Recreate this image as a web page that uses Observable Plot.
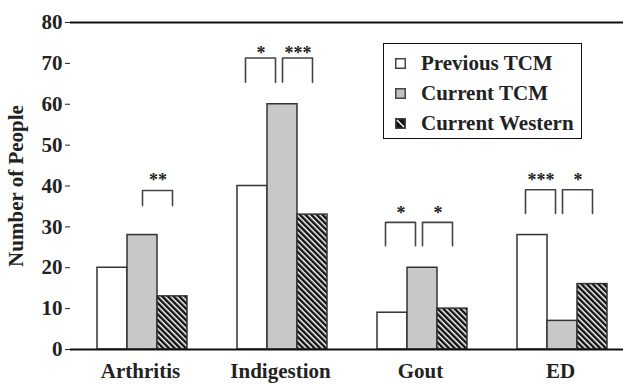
<!DOCTYPE html>
<html>
<head>
<meta charset="utf-8">
<script src="https://cdn.jsdelivr.net/npm/d3@7"></script>
<script src="https://cdn.jsdelivr.net/npm/@observablehq/plot@0.6"></script>
<style>
  html, body { margin: 0; padding: 0; background: #fff; overflow: hidden; width: 623px; height: 384px; }
  #wrap { position: relative; width: 630px; height: 384px; }
  #legend { position: absolute; left: 383px; top: 43px; width: 197px; height: 94px; border: 1.5px solid #111; background: #fff;
            font: bold 21px "Liberation Serif", "Times New Roman", serif; color: #222; }
  #legend .item { position: absolute; left: 11px; height: 24px; display: flex; align-items: center; white-space: nowrap; }
  #legend .item svg { margin-right: 15px; }
</style>
</head>
<body>
<div id="wrap"><div id="legend"></div></div>
<script>
// ---- data ----
const categories = ["Arthritis", "Indigestion", "Gout", "ED"];
const series = ["Previous TCM", "Current TCM", "Current Western"];
const previousTCM = [20, 40, 9, 28];
const currentTCM = [28, 60, 20, 7];
const currentWestern = [13, 33, 10, 16];
const yTicks = [0, 10, 20, 30, 40, 50, 60, 70, 80];

// significance brackets
const bracketCategory = ["Arthritis", "Indigestion", "Indigestion", "Gout", "Gout", "ED", "ED"];
const bracketFrom = ["Current TCM", "Previous TCM", "Current TCM", "Previous TCM", "Current TCM", "Previous TCM", "Current TCM"];
const bracketTo = ["Current Western", "Current TCM", "Current Western", "Current TCM", "Current Western", "Current TCM", "Current Western"];
const bracketTop = [38.9, 71.3, 71.3, 31.1, 31.1, 39.1, 39.1];
const bracketBottom = [35.2, 65.4, 65.4, 25.4, 25.4, 33.3, 33.3];
const bracketStars = ["**", "*", "***", "*", "*", "***", "*"];
const bracketStarY = [42.1, 73.1, 73.1, 34.0, 34.0, 42.1, 42.1];

// ---- layout / style ----
const W = 630, H = 384;
const M = {top: 22, right: 0, bottom: 35, left: 70};
const xPadOuter = 0.76;
const fxBand = (W - M.left - M.right) / categories.length;
const xStep = fxBand / (series.length + 2 * xPadOuter);
const leftShift = -7;
const fills = ["#ffffff", "#c8c8c8", "url(#hatch)"];
const font = '"Liberation Serif", "Times New Roman", serif';

const seriesValues = [previousTCM, currentTCM, currentWestern];
const bars = categories.flatMap((c, i) => series.map((s, j) => ({category: c, series: s, value: seriesValues[j][i]})));
const brackets = bracketCategory.map((c, k) => ({
  k, category: c, from: bracketFrom[k], to: bracketTo[k], top: bracketTop[k], bottom: bracketBottom[k],
  stars: bracketStars[k], starY: bracketStarY[k], first: bracketFrom[k] === series[0]
}));
const bracketPts = brackets.flatMap(b => [
  {k: b.k, first: b.first, category: b.category, s: b.from, y: b.bottom},
  {k: b.k, first: b.first, category: b.category, s: b.from, y: b.top},
  {k: b.k, first: b.first, category: b.category, s: b.to, y: b.top},
  {k: b.k, first: b.first, category: b.category, s: b.to, y: b.bottom}
]);

const chart = Plot.plot({
  width: W, height: H,
  marginTop: M.top, marginRight: M.right, marginBottom: M.bottom, marginLeft: M.left,
  style: {fontFamily: font, fontSize: "21px", fontWeight: "bold", color: "#222", background: "transparent", overflow: "visible"},
  fx: {domain: categories, padding: 0, axis: "bottom", tickSize: 0, tickPadding: 14, label: null},
  x: {domain: series, paddingInner: 0, paddingOuter: xPadOuter, align: 0.53, axis: null},
  y: {domain: [0, 80], ticks: yTicks, tickSize: 5, tickPadding: 3, tickFormat: d => d,
      label: "Number of People", labelAnchor: "center", labelOffset: 62, labelArrow: "none"},
  color: {domain: series, range: fills},
  marks: [
    Plot.ruleY([80], {stroke: "#111", strokeWidth: 2}),
    Plot.barY(bars, {fx: "category", x: "series", y: "value", fill: "series", stroke: "#333", strokeWidth: 1.5}),
    Plot.line(bracketPts.filter(d => d.first), {fx: "category", x: "s", y: "y", z: "k", stroke: "#444", strokeWidth: 1.6, dx: leftShift}),
    Plot.line(bracketPts.filter(d => !d.first), {fx: "category", x: "s", y: "y", z: "k", stroke: "#444", strokeWidth: 1.6}),
    Plot.text(brackets.filter(d => d.first), {fx: "category", x: "from", y: "starY", text: "stars", dx: xStep / 2 + leftShift, dy: 3, fontSize: 18, fill: "#222"}),
    Plot.text(brackets.filter(d => !d.first), {fx: "category", x: "from", y: "starY", text: "stars", dx: xStep / 2, dy: 3, fontSize: 18, fill: "#222"}),
    Plot.ruleY([0], {stroke: "#111", strokeWidth: 2}),
    Plot.ruleX([categories[0]], {fx: d => d, y1: 80, y2: 0, insetBottom: -5, dx: -fxBand / 2, stroke: "#111", strokeWidth: 2}),
    Plot.ruleX(categories.slice(1), {fx: d => d, y1: 0, y2: 0, insetBottom: -6, dx: -fxBand / 2, stroke: "#111", strokeWidth: 2})
  ]
});

// hatch pattern for "Current Western"
const defs = d3.select(chart).insert("defs", ":first-child");
const pat = defs.append("pattern").attr("id", "hatch").attr("patternUnits", "userSpaceOnUse")
  .attr("width", 4).attr("height", 4).attr("patternTransform", "rotate(-45)");
pat.append("rect").attr("width", 4).attr("height", 4).attr("fill", "#fff");
pat.append("rect").attr("width", 2.5).attr("height", 4).attr("fill", "#111");

document.getElementById("wrap").prepend(chart);

// legend
const legend = d3.select("#legend");
const swatchFill = ["#ffffff", "#c0c0c0", "#111"];
series.forEach((s, i) => {
  const item = legend.append("div").attr("class", "item").style("top", (7 + i * 30) + "px");
  const sv = item.append("svg").attr("width", 11).attr("height", 11);
  sv.append("rect").attr("x", 0.75).attr("y", 0.75).attr("width", 9.5).attr("height", 9.5)
    .attr("fill", swatchFill[i]).attr("stroke", "#444").attr("stroke-width", 1.5);
  if (i === 2) sv.append("line").attr("x1", 2).attr("y1", 2).attr("x2", 9).attr("y2", 9).attr("stroke", "#fff").attr("stroke-width", 1.5);
  item.append("span").text(s);
});
</script>
</body>
</html>
